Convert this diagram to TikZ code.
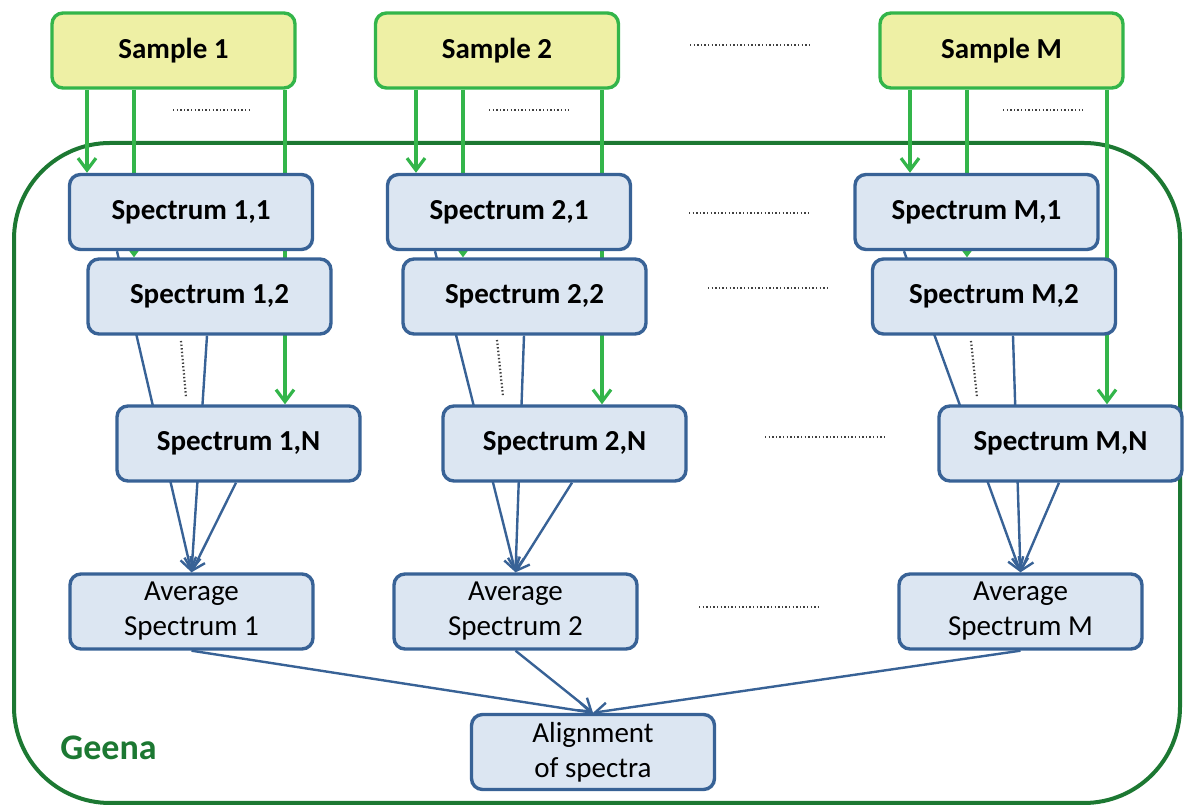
\documentclass[tikz,border=0pt]{standalone}
\usepackage{fontspec}
\setmainfont{Carlito}
\usetikzlibrary{arrows.meta, backgrounds}

\definecolor{samplefill}{RGB}{238,240,165}
\definecolor{samplegreen}{RGB}{51,181,74}
\definecolor{specfill}{RGB}{220,230,242}
\definecolor{specblue}{RGB}{56,98,150}
\definecolor{geenagreen}{RGB}{28,120,50}

\tikzset{
  box/.style={draw, line width=1.7pt, rounded corners=5.5pt, minimum width=121.5pt,
    minimum height=37.5pt, align=center, font=\fontsize{14.5}{17.5}\selectfont},
  sample/.style={box, draw=samplegreen, fill=samplefill, font=\fontsize{14.5}{17.5}\selectfont\bfseries},
  spectrum/.style={box, draw=specblue, fill=specfill, font=\fontsize{14.5}{17.5}\selectfont\bfseries},
  average/.style={box, draw=specblue, fill=specfill},
  feed/.style={samplegreen, line width=1.6pt, -{Straight Barb[length=6pt,width=9pt]}},
  merge/.style={specblue, line width=1.2pt, -{Straight Barb[length=6pt,width=8pt]}},
  etc/.style={black!75, line width=1.1pt, dash pattern=on 0.7pt off 1.1pt},
}

\begin{document}
\begin{tikzpicture}[x=0.5pt, y=-0.5pt]
\useasboundingbox (0,0) rectangle (1185,806);

% samples
\node[sample] (s1) at (173.5,50.5) {Sample 1};
\node[sample] (s2) at (497,50.5) {Sample 2};
\node[sample] (sM) at (1001.5,50.5) {Sample M};

% spectra, one column per sample
\node[spectrum] (p11) at (191,212) {Spectrum 1,1};
\node[spectrum] (p12) at (209.5,296.5) {Spectrum 1,2};
\node[spectrum] (p1N) at (238.5,443.5) {Spectrum 1,N};

\node[spectrum] (p21) at (509,212) {Spectrum 2,1};
\node[spectrum] (p22) at (524.5,296.5) {Spectrum 2,2};
\node[spectrum] (p2N) at (564.5,443.5) {Spectrum 2,N};

\node[spectrum] (pM1) at (976.5,212) {Spectrum M,1};
\node[spectrum] (pM2) at (994,296.5) {Spectrum M,2};
\node[spectrum] (pMN) at (1060.5,443.5) {Spectrum M,N};

% averages and alignment
\node[average] (a1) at (191.5,611.5) {Average\\Spectrum 1};
\node[average] (a2) at (515.5,611.5) {Average\\Spectrum 2};
\node[average] (aM) at (1020.5,611.5) {Average\\Spectrum M};
\node[average] (al) at (593,752) {Alignment\\of spectra};

\node[anchor=west, inner sep=0pt, text=geenagreen, font=\fontsize{18}{20}\selectfont\bfseries] (geena) at (60,748) {Geena};

\begin{scope}[on background layer]
\draw[geenagreen, line width=2pt, rounded corners=48pt] (14,143) rectangle (1180,803);

% samples -> spectra
\draw[feed] (s1.south -| 87,0) -- (p11.north -| 87,0);
\draw[feed] (s1.south -| 134,0) -- (p12.north -| 134,0);
\draw[feed] (s1.south -| 285,0) -- (p1N.north -| 285,0);
\draw[feed] (s2.south -| 416,0) -- (p21.north -| 416,0);
\draw[feed] (s2.south -| 463,0) -- (p22.north -| 463,0);
\draw[feed] (s2.south -| 602,0) -- (p2N.north -| 602,0);
\draw[feed] (sM.south -| 910,0) -- (pM1.north -| 910,0);
\draw[feed] (sM.south -| 967,0) -- (pM2.north -| 967,0);
\draw[feed] (sM.south -| 1107,0) -- (pMN.north -| 1107,0);

% spectra -> averages
\draw[merge] (p11.south -| 117,0) -- (a1.north);
\draw[merge] (p12.south -| 207,0) -- (a1.north);
\draw[merge] (p1N.south -| 236,0) -- (a1.north);
\draw[merge] (p21.south -| 435,0) -- (a2.north);
\draw[merge] (p22.south -| 524,0) -- (a2.north);
\draw[merge] (p2N.south -| 572,0) -- (a2.north);
\draw[merge] (pM1.south -| 904,0) -- (aM.north);
\draw[merge] (pM2.south -| 1013,0) -- (aM.north);
\draw[merge] (pMN.south -| 1059,0) -- (aM.north);

% averages -> alignment
\draw[merge] (a1.south) -- (al.north);
\draw[merge] (a2.south) -- (al.north);
\draw[merge] (aM.south) -- (al.north);
\end{scope}

% the ones left out
\draw[etc] (690,45) -- (810,45);
\draw[etc] (173,110) -- (251,110);
\draw[etc] (489,110) -- (569,110);
\draw[etc] (1003,110) -- (1083,110);
\draw[etc] (689,213) -- (810,213);
\draw[etc] (708,288) -- (830,288);
\draw[etc] (765,437) -- (885,437);
\draw[etc] (699,607) -- (820,607);
\draw[etc] (181,341) -- (186,397);
\draw[etc] (497,340) -- (503,396);
\draw[etc] (971,341) -- (977,397);
\end{tikzpicture}
\end{document}
